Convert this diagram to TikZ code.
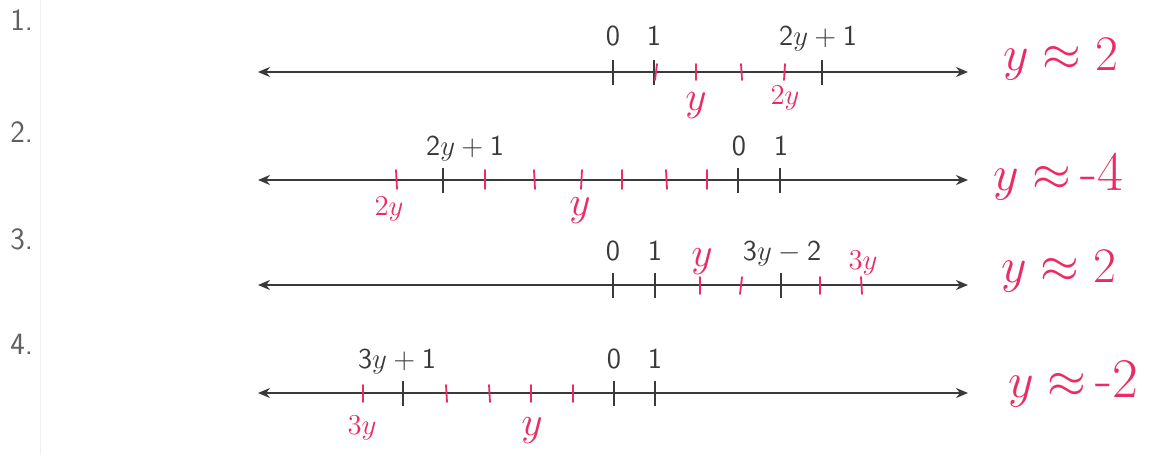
\documentclass[tikz,border=0pt]{standalone}
\usetikzlibrary{arrows.meta}
\definecolor{ink}{HTML}{3A3A3A}
\definecolor{pen}{HTML}{EC2A64}
\definecolor{numgray}{HTML}{606060}
\begin{document}
\begin{tikzpicture}[x=0.5pt,y=-0.5pt,
  axis/.style={ink, line width=0.9pt, {Stealth[length=6pt,width=5pt]}-{Stealth[length=6pt,width=5pt]}},
  btick/.style={ink, line width=0.95pt},
  rtick/.style={pen, line width=0.9pt, line cap=round},
  lab/.style={ink, font=\fontsize{14.5}{16}\sffamily, inner sep=0pt, anchor=base},
  rlab/.style={pen, font=\fontsize{20}{22}\selectfont, inner sep=0pt},
  rlabs/.style={pen, font=\fontsize{15}{17}\selectfont, inner sep=0pt},
  ans/.style={pen, font=\fontsize{28}{30}\selectfont, inner sep=0pt, anchor=base west},
  num/.style={numgray, font=\fontsize{15.5}{17}\sffamily, inner sep=0pt, anchor=base west}]
\useasboundingbox (0,0) rectangle (1150,455);
\fill[white] (0,0) rectangle (1150,455);
\draw[black!6, line width=0.5pt] (40,0) -- (40,455);

% item numbers
\node[num] (n1) at (10,31) {1.};
\node[num] (n2) at (10,142) {2.};
\node[num] (n3) at (10,249) {3.};
\node[num] (n4) at (10,354) {4.};

% ---------- line 1 ----------
\coordinate (a1l) at (258,72); \coordinate (a1r) at (968,72);
\draw[axis] (a1l) -- (a1r);
\foreach \x in {613,654,822} \draw[btick] (\x,60) -- (\x,85);
\foreach \x/\s in {655/2,696/0,742/-1,784/1} \draw[rtick] (\x+\s,64) -- (\x,80);
\node[lab] (l1a) at (613,46) {0};
\node[lab] (l1b) at (654,46) {1};
\node[lab] (l1c) at (818,46) {$\mathsf{2}y+\mathsf{1}$};
\node[rlab] (r1a) at (696,106) {$y$};
\node[rlabs] (r1b) at (785,98) {$2y$};
\node[ans] (s1) at (1003,70) {$y\approx 2$};

% ---------- line 2 ----------
\coordinate (a2l) at (258,180); \coordinate (a2r) at (968,180);
\draw[axis] (a2l) -- (a2r);
\foreach \x in {443,738,780} \draw[btick] (\x,168) -- (\x,193);
\foreach \x/\s in {397/-1,485/0,535/-1,581/1,622/0,667/-1,707/0} \draw[rtick] (\x+\s,170) -- (\x,189);
\node[lab] (l2a) at (465,155) {$\mathsf{2}y+\mathsf{1}$};
\node[lab] (l2b) at (739,155) {0};
\node[lab] (l2c) at (781,155) {1};
\node[rlabs] (r2a) at (389,209) {$2y$};
\node[rlab] (r2b) at (580,211) {$y$};
\node[ans] (s2) at (993,190) {$y\approx$\,-4};

% ---------- line 3 ----------
\coordinate (a3l) at (258,285); \coordinate (a3r) at (968,285);
\draw[axis] (a3l) -- (a3r);
\foreach \x in {613,655,781} \draw[btick] (\x,273) -- (\x,298);
\foreach \x/\s in {700/0,740/2,820/0,862/-1} \draw[rtick] (\x+\s,277) -- (\x,294);
\node[lab] (l3a) at (613,260) {0};
\node[lab] (l3b) at (655,260) {1};
\node[lab] (l3c) at (782,260) {$\mathsf{3}y-\mathsf{2}$};
\node[rlab] (r3a) at (702,262) {$y$};
\node[rlabs] (r3b) at (863,263) {$3y$};
\node[ans] (s3) at (1001,282) {$y\approx 2$};

% ---------- line 4 ----------
\coordinate (a4l) at (258,393); \coordinate (a4r) at (968,393);
\draw[axis] (a4l) -- (a4r);
\foreach \x in {403,614,655} \draw[btick] (\x,381) -- (\x,406);
\foreach \x/\s in {363/0,447/-1,490/-1,531/0,573/0} \draw[rtick] (\x+\s,385) -- (\x,402);
\node[lab] (l4a) at (397,368) {$\mathsf{3}y+\mathsf{1}$};
\node[lab] (l4b) at (614,368) {0};
\node[lab] (l4c) at (655,368) {1};
\node[rlabs] (r4a) at (362,428) {$3y$};
\node[rlab] (r4b) at (532,431) {$y$};
\node[ans] (s4) at (1008,397) {$y\approx$\,-2};
\end{tikzpicture}
\end{document}
